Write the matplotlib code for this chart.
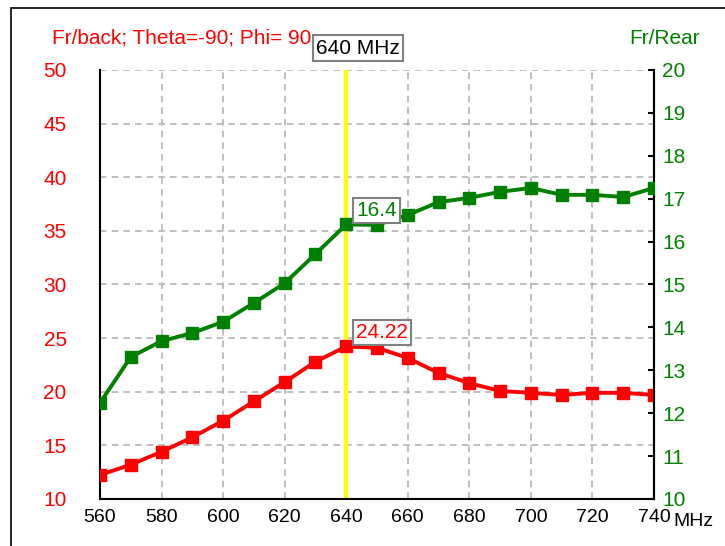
import matplotlib.pyplot as plt
from matplotlib.patches import Rectangle

plt.rcParams['font.family'] = ['Liberation Sans Narrow', 'Liberation Sans', 'DejaVu Sans']

freq = [560, 570, 580, 590, 600, 610, 620, 630, 640, 650,
        660, 670, 680, 690, 700, 710, 720, 730, 740]
fr_back = [12.24, 13.2, 14.4, 15.75, 17.3, 19.1, 20.9, 22.8, 24.22, 24.1,
           23.15, 21.75, 20.8, 20.07, 19.9, 19.7, 19.9, 19.9, 19.7]
fr_rear = [12.24, 13.31, 13.68, 13.87, 14.13, 14.57, 15.03, 15.71, 16.4, 16.39,
           16.62, 16.92, 17.02, 17.16, 17.25, 17.09, 17.09, 17.04, 17.25]
x_ticks = list(range(560, 741, 20))
left_ticks = list(range(10, 51, 5))
right_ticks = list(range(10, 21))
marker_freq = 640

RED = '#ff0000'
GREEN = '#008000'

fig = plt.figure(figsize=(7.25, 5.46), dpi=100)
fig.patch.set_facecolor('white')
fig.add_artist(Rectangle((11 / 725, -0.05), 1.0, 1 - 8 / 546 + 0.05,
                         transform=fig.transFigure, fill=False,
                         edgecolor='black', linewidth=1.2))

ax = fig.add_axes([100 / 725, 1 - 499 / 546, 554 / 725, 429 / 546])
ax.set_xlim(560, 740)
ax.set_ylim(10, 50)
ax.set_xticks(x_ticks)
ax.set_yticks(left_ticks)
ax.grid(True, color='#b4b4b4', linestyle=(0, (4, 3)), linewidth=1.2)
ax.spines['top'].set_visible(False)
for s in ['left', 'bottom', 'right']:
    ax.spines[s].set_linewidth(1.5)
ax.tick_params(axis='y', colors=RED, labelsize=15, length=0, pad=24)
ax.tick_params(axis='x', colors='black', labelsize=14, length=0, pad=7)

ax.axvline(marker_freq, color='#ffff00', linewidth=3, zorder=2)

ax.plot(freq, fr_back, color=RED, linewidth=2.8, marker='s', markersize=8, zorder=3)

ax2 = ax.twinx()
ax2.set_ylim(10, 20)
ax2.set_yticks(right_ticks)
ax2.tick_params(axis='y', colors=GREEN, labelsize=15, direction='in', length=4,
                width=1.5, pad=6)
ax2.tick_params(axis='y', color='black')
for s in ['left', 'bottom', 'top']:
    ax2.spines[s].set_visible(False)
ax2.spines['right'].set_linewidth(1.5)
ax2.plot(freq, fr_rear, color=GREEN, linewidth=2.8, marker='s', markersize=8, zorder=3)

i = freq.index(marker_freq)
box = dict(boxstyle='square,pad=0.15', facecolor='white', edgecolor='#808080', linewidth=1.5)
ax2.annotate(f"{fr_rear[i]:g}", (marker_freq, fr_rear[i]), xytext=(7, 3),
             textcoords='offset points', color=GREEN, fontsize=15, va='bottom',
             ha='left', bbox=box, zorder=5)
ax2.annotate(f"{fr_back[i]:g}", (marker_freq, 10 + (fr_back[i] - 10) / 4), xytext=(7, 3),
             textcoords='offset points', color=RED, fontsize=15, va='bottom',
             ha='left', bbox=box, zorder=5)

fig.text(52 / 725, 1 - 38 / 546, "Fr/back; Theta=-90; Phi= 90", color=RED,
         fontsize=15, va='center', ha='left')
fig.text(700 / 725, 1 - 38 / 546, "Fr/Rear", color=GREEN, fontsize=15,
         va='center', ha='right')
fig.text(358 / 725, 1 - 48 / 546, f"{marker_freq} MHz", color='black', fontsize=15,
         va='center', ha='center', bbox=box, zorder=10)
fig.text(673 / 725, 1 - 521 / 546, "MHz", color='black', fontsize=14,
         va='center', ha='left')

fig.savefig('out.png', dpi=100, facecolor='white')
